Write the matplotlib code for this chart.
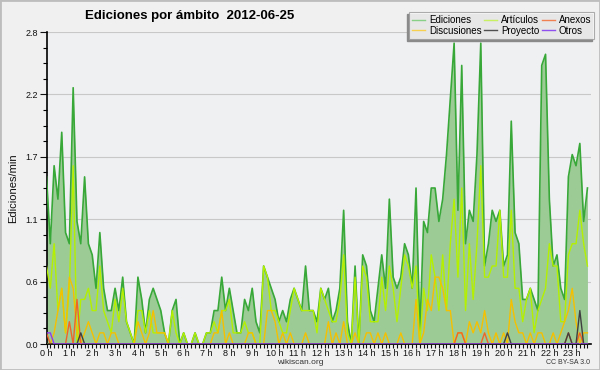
import numpy as np
import matplotlib
matplotlib.use('Agg')
import matplotlib.pyplot as plt
from matplotlib import font_manager
from matplotlib.ticker import FixedLocator, MultipleLocator
from matplotlib.patches import Rectangle

# ediciones por minuto, cada 10 minutos (0:00 .. 23:40)
ediciones = [
    1.5, 0.9, 1.6, 1.3, 1.9, 1.0, 0.9, 2.3, 1.1, 0.9,
    1.5, 0.9, 0.8, 0.5, 1.0, 0.5, 0.3, 0.3, 0.5, 0.3,
    0.6, 0.2, 0.1, 0.0, 0.6, 0.4, 0.1, 0.4, 0.5, 0.4,
    0.3, 0.1, 0.0, 0.3, 0.4, 0.0, 0.1, 0.0, 0.0, 0.1,
    0.0, 0.0, 0.1, 0.1, 0.3, 0.3, 0.6, 0.3, 0.5, 0.3,
    0.1, 0.1, 0.4, 0.3, 0.5, 0.2, 0.1, 0.7, 0.6, 0.5,
    0.4, 0.2, 0.3, 0.2, 0.4, 0.5, 0.4, 0.3, 0.7, 0.3,
    0.3, 0.2, 0.5, 0.4, 0.5, 0.2, 0.3, 0.5, 1.2, 0.2,
    0.0, 0.7, 0.0, 0.8, 0.7, 0.3, 0.2, 0.5, 0.8, 0.5,
    1.3, 0.6, 0.5, 0.6, 0.9, 0.8, 0.5, 1.4, 0.1, 1.1,
    1.0, 1.4, 1.4, 1.1, 1.3, 1.7, 2.2, 2.7, 1.2, 2.5,
    0.9, 1.2, 1.1, 1.7, 2.7, 0.7, 0.9, 1.2, 1.1, 1.2,
    0.7, 0.8, 2.0, 1.0, 0.9, 0.4, 0.4, 0.5, 0.4, 0.3,
    2.5, 2.6, 1.3, 0.7, 0.8, 0.5, 0.4, 1.5, 1.7, 1.6,
    1.8, 1.1, 1.4]

articulos = [
    0.7, 0.5, 0.9, 0.3, 0.5, 0.1, 0.5, 1.6, 0.0, 0.4,
    0.4, 0.5, 0.3, 0.3, 0.7, 0.3, 0.2, 0.1, 0.4, 0.2,
    0.5, 0.2, 0.1, 0.0, 0.3, 0.3, 0.1, 0.3, 0.1, 0.1,
    0.1, 0.1, 0.0, 0.3, 0.1, 0.0, 0.1, 0.0, 0.0, 0.1,
    0.0, 0.0, 0.1, 0.1, 0.2, 0.1, 0.3, 0.3, 0.4, 0.1,
    0.1, 0.1, 0.2, 0.1, 0.1, 0.0, 0.0, 0.7, 0.6, 0.3,
    0.3, 0.2, 0.1, 0.1, 0.3, 0.5, 0.4, 0.3, 0.3, 0.3,
    0.3, 0.1, 0.5, 0.4, 0.3, 0.2, 0.2, 0.4, 0.8, 0.1,
    0.0, 0.6, 0.0, 0.7, 0.6, 0.2, 0.2, 0.2, 0.6, 0.3,
    0.7, 0.5, 0.2, 0.5, 0.8, 0.7, 0.5, 0.7, 0.0, 0.5,
    0.3, 0.8, 0.6, 0.3, 0.8, 0.3, 0.9, 1.3, 0.6, 1.4,
    0.3, 0.9, 0.4, 0.9, 1.6, 0.6, 0.6, 0.7, 0.7, 1.2,
    0.6, 0.6, 1.2, 0.5, 0.5, 0.2, 0.4, 0.5, 0.1, 0.3,
    0.4, 0.5, 0.9, 0.7, 0.7, 0.2, 0.2, 0.8, 0.9, 0.9,
    1.2, 0.9, 0.7]

discusiones = [
    0.0, 0.0, 0.1, 0.3, 0.5, 0.1, 0.6, 0.5, 0.1, 0.0,
    0.1, 0.2, 0.1, 0.0, 0.1, 0.1, 0.0, 0.1, 0.1, 0.0,
    0.0, 0.0, 0.0, 0.0, 0.2, 0.1, 0.0, 0.1, 0.3, 0.1,
    0.1, 0.1, 0.0, 0.0, 0.0, 0.0, 0.0, 0.0, 0.0, 0.0,
    0.0, 0.0, 0.0, 0.0, 0.1, 0.1, 0.3, 0.0, 0.1, 0.0,
    0.0, 0.0, 0.0, 0.1, 0.1, 0.0, 0.0, 0.0, 0.3, 0.3,
    0.2, 0.0, 0.1, 0.0, 0.1, 0.0, 0.0, 0.0, 0.1, 0.0,
    0.0, 0.0, 0.0, 0.0, 0.2, 0.0, 0.1, 0.0, 0.2, 0.0,
    0.0, 0.1, 0.0, 0.0, 0.1, 0.1, 0.0, 0.1, 0.0, 0.1,
    0.0, 0.0, 0.0, 0.1, 0.0, 0.0, 0.0, 0.4, 0.0, 0.1,
    0.4, 0.3, 0.6, 0.6, 0.5, 0.3, 0.3, 0.0, 0.1, 0.1,
    0.0, 0.2, 0.1, 0.2, 0.1, 0.3, 0.1, 0.0, 0.1, 0.0,
    0.1, 0.0, 0.4, 0.2, 0.1, 0.1, 0.0, 0.1, 0.0, 0.1,
    0.1, 0.0, 0.0, 0.1, 0.0, 0.1, 0.2, 0.3, 0.5, 0.2,
    0.0, 0.1, 0.1]

# series casi vacias: {indice: valor}, el resto es 0
anexos_pts = {0: 0.1, 6: 0.2, 8: 0.4, 108: 0.1, 109: 0.1, 115: 0.1, 137: 0.1, 140: 0.1}
proyecto_pts = {9: 0.1, 121: 0.1, 137: 0.1, 140: 0.3}
otros_pts = {0: 0.1, 1: 0.1}

hour_labels = ['%d h' % h for h in range(24)]
ytick_vals = [0.0, 0.56, 1.12, 1.68, 2.24, 2.8]
ytick_labels = ['0.0', '0.6', '1.1', '1.7', '2.2', '2.8']

n = len(ediciones)
x = np.arange(n) / 6.0


def sparse(pts):
    s = np.zeros(n)
    for k, v in pts.items():
        s[k] = v
    return s


anexos = sparse(anexos_pts)
proyecto = sparse(proyecto_pts)
otros = sparse(otros_pts)

names = {f.name for f in font_manager.fontManager.ttflist}
narrow = 'Liberation Sans Narrow' if 'Liberation Sans Narrow' in names else 'Liberation Sans'
plt.rcParams['font.family'] = [narrow, 'DejaVu Sans']

bg = '#f0f0f0'
fig = plt.figure(figsize=(6, 3.7), dpi=100, facecolor=bg)
ax = fig.add_axes([46.5 / 600, 26 / 370, 544 / 600, 312 / 370])
ax.set_facecolor('#eef0f2')

c_ed = '#38a838'
c_art = '#b4f000'
c_dis = '#f5c000'
c_anx = '#f06428'
c_pro = '#404040'
c_otr = '#8c3cf0'

ax.fill_between(x, ediciones, 0, color='#9ccb96', lw=0, zorder=2)
ax.plot(x, ediciones, color=c_ed, lw=1.2, zorder=3)
ax.plot(x, articulos, color=c_art, lw=1.0, zorder=4)
ax.plot(x, discusiones, color=c_dis, lw=1.0, zorder=5)
ax.plot(x, anexos, color=c_anx, lw=1.0, zorder=6)
ax.plot(x, proyecto, color=c_pro, lw=1.0, zorder=7)
ax.plot(x, otros, color=c_otr, lw=1.0, zorder=8)

ax.set_xlim(0, 142.8 / 6)
ax.set_ylim(0, 2.8)

ax.xaxis.set_major_locator(FixedLocator(range(24)))
ax.set_xticklabels(hour_labels)
ax.xaxis.set_minor_locator(MultipleLocator(1 / 6))
ax.yaxis.set_major_locator(FixedLocator(ytick_vals))
ax.set_yticklabels(ytick_labels)
ax.yaxis.set_minor_locator(MultipleLocator(0.14))

ax.tick_params(axis='x', which='both', length=3, width=0.8, pad=0.5,
               labelsize=6.5, colors='#111111')
ax.tick_params(axis='y', which='major', length=5, width=0.8, pad=1,
               labelsize=6.5, colors='#111111')
ax.tick_params(axis='y', which='minor', length=3, width=0.8)

ax.grid(axis='y', which='major', color='#c8c8c8', lw=0.8, zorder=1)
ax.set_axisbelow(True)
for side in ['top', 'right']:
    ax.spines[side].set_visible(False)
ax.spines['left'].set_linewidth(1.2)
ax.spines['bottom'].set_linewidth(1.2)

ax.set_ylabel('Ediciones/min', fontsize=8, labelpad=5, color='#111111')

fig.text(85 / 600, 1 - 16 / 370, 'Ediciones por ámbito  2012-06-25',
         fontsize=9.5, fontweight='bold', va='center', ha='left')
fig.text(300 / 600, 1 - 363 / 370, 'wikiscan.org', fontsize=6,
         ha='center', va='center', color='#333333')
fig.text(590 / 600, 1 - 363 / 370, 'CC BY-SA 3.0', fontsize=5,
         ha='right', va='center', color='#333333')

# leyenda
handles = [plt.Line2D([], [], color=c, lw=1.0) for c in
           ['#88d088', '#f8d050', '#c8f060', '#505050', '#f08050', '#9050f0']]
labels = ['Ediciones', 'Discusiones', 'Artículos', 'Proyecto', 'Anexos', 'Otros']
leg = fig.legend(handles, labels, ncol=3, loc='upper right',
                 bbox_to_anchor=(594 / 600, 1 - 12 / 370), fontsize=7,
                 frameon=True, fancybox=False, handlelength=1.3,
                 handletextpad=0.4, columnspacing=0.3, labelspacing=0.1,
                 borderpad=0.3, borderaxespad=0)
leg.get_frame().set_edgecolor('#999999')
leg.get_frame().set_linewidth(0.8)
leg.get_frame().set_facecolor('white')
leg.set_zorder(6)

fig.canvas.draw()
bb = leg.get_window_extent().transformed(fig.transFigure.inverted())
fig.patches.append(Rectangle((bb.x0 - 2.5 / 600, bb.y0 - 2.5 / 370), bb.width, bb.height,
                             transform=fig.transFigure, color='#8a8a8a', zorder=5))

# borde de la imagen
fig.patches.append(Rectangle((0, 0), 1, 1, transform=fig.transFigure,
                             fill=False, edgecolor='#bdbdbd', lw=2, zorder=10))

plt.savefig('out.png', dpi=100, facecolor=bg)
